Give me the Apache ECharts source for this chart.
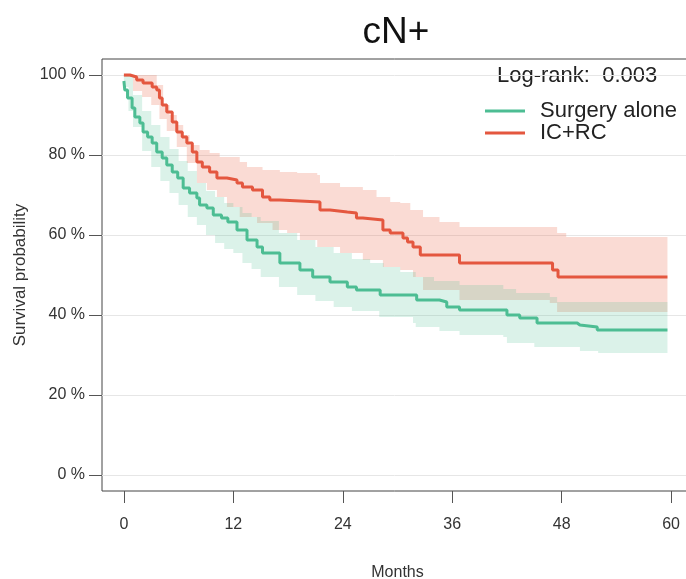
<!DOCTYPE html>
<html>
<head>
<meta charset="utf-8">
<script src="https://cdn.jsdelivr.net/npm/echarts@6/dist/echarts.min.js"></script>
<style>html,body{margin:0;padding:0;background:#fff}#c{width:686px;height:579px}</style>
</head>
<body>
<div id="c"></div>
<script>
// ---- data (months, survival %) ----
const seriesNames = ['Surgery alone', 'IC+RC'];
const xTicks = [0, 12, 24, 36, 48, 60];
const yTicks = [0, 20, 40, 60, 80, 100];

const surgeryAlone = [[0,98.5],[0.1,96.25],[0.4,94.25],[0.9,91.75],[1.2,89.5],[1.75,88],[2.1,85.75],[2.6,84.5],[3.1,83],[3.6,80.75],[4.2,79.25],[4.7,77.5],[5.3,75.75],[5.9,74.25],[6.5,71.75],[7.2,70.5],[8.0,69.25],[8.3,67.5],[9.1,66.75],[9.8,65],[10.7,64.25],[11.4,63.25],[12.4,61.25],[13.5,58.75],[14.6,57],[15.2,55.5],[17.1,53],[19.3,51.25],[20.7,49.5],[22.6,48.25],[24.5,47],[25.5,46.25],[28.1,45],[32.1,43.75],[34.6,43.25],[35.4,42],[36.8,41.25],[42.0,40],[43.4,39.25],[45.3,38],[49.7,37.5],[50.0,37],[51.9,36.25],[59.6,36.25]];
const surgeryUpper = [[0,100],[1,95],[2,91],[3,87.5],[4,84.5],[5,81.5],[6,78.5],[7,76],[8,73],[9,71],[10,69.5],[11,68],[12,67],[13,65.5],[14,64.5],[15,63.5],[17,60.5],[19,58.75],[21,57],[23,55.5],[25,54],[27,53],[28.5,52],[30.3,50.75],[32,49.5],[34,48.5],[36.8,47.5],[41.6,46.5],[43,45.5],[46.7,44.5],[47.5,43.25],[59.6,43.25]];
const surgeryLower = [[0,97],[0.5,91],[1,87],[2,81],[3,77],[4,73.5],[5,70.5],[6,67.5],[7,64.5],[8,62.5],[9,60],[10,58],[11,56.5],[12,55.5],[13,53],[14,51.5],[15,49.5],[17,47],[19,45],[21,43.5],[23,42],[25,41],[28,39.5],[31.7,38],[32,37],[34.6,36],[36.8,35],[41.6,34.5],[42,33],[45,32],[50,31],[52,30.5],[59.6,30.5]];

const icrc = [[0,100],[0.66,99.5],[1.4,98.75],[2.1,98],[3.1,97],[3.6,96.25],[3.9,94.25],[4.2,92.5],[4.7,90.75],[5.3,88.25],[5.8,85.75],[6.4,84.5],[6.9,83],[7.5,80.75],[8.0,78.25],[8.6,77],[9.4,75.75],[10.2,74.25],[11.3,73.75],[12.4,73],[13.0,72],[14.1,71.25],[15.2,69.5],[16.0,68.75],[17.1,68.25],[21.5,66.25],[22.6,65.75],[24.5,65.5],[25.5,64.25],[26.2,63.75],[28.4,61.25],[29.2,60.5],[30.6,59.25],[31.1,58.25],[31.7,57],[32.5,55],[36.8,53],[47.0,51.25],[47.6,49.5],[59.6,49.5]];
const icrcUpper = [[0,100],[3.6,97.5],[4.3,92.5],[5.0,90],[5.8,87.5],[6.5,85],[7.2,82.5],[8.3,81.25],[9.4,80.5],[10.5,79.5],[12.7,78.25],[13.5,77],[15.2,76.25],[17.1,75.75],[19.0,75.5],[21.2,75],[21.5,73],[23.7,72],[26.2,71.25],[27.7,69.5],[29.2,68.25],[30.3,68],[31.4,66.25],[32.8,64.5],[34.6,63.25],[36.8,62],[47.5,60.5],[48.5,59.5],[59.6,59.5]];
const icrcLower = [[0,99.5],[1,96],[2,94.5],[3,92.5],[3.9,89],[4.7,86],[5.8,82],[6.9,78],[8.0,73],[9.1,71.25],[10.2,69.5],[11.3,67],[12.7,64.5],[14.6,63],[16.3,61.25],[17.9,60.5],[19.3,58.75],[21.2,57],[23.7,55.5],[26.2,53.75],[28.4,52],[30.3,51.25],[31.7,49.5],[32.8,46.25],[36.8,43.75],[46.7,43],[47.5,40.75],[59.6,40.75]];

const logRankText = 'Log-rank:  0.003';

// ---- styling ----
const GREEN = '#4dbd93';
const RED = '#e4573f';
const FONT = '"Liberation Sans", Arial, sans-serif';

function stepPath(arr) {
  const pts = [[arr[0][0], arr[0][1]]];
  for (let i = 1; i < arr.length; i++) {
    pts.push([arr[i][0], arr[i - 1][1]]);
    pts.push([arr[i][0], arr[i][1]]);
  }
  return pts;
}
function bandSeries(upper, lower, fill) {
  return {
    type: 'custom',
    coordinateSystem: 'cartesian2d',
    silent: true,
    data: [[0, 0]],
    z: 1,
    renderItem: function (params, api) {
      const up = stepPath(upper);
      const lo = stepPath(lower).reverse();
      const points = up.concat(lo).map(p => api.coord(p));
      return { type: 'polygon', shape: { points: points }, style: { fill: fill } };
    }
  };
}

const chart = echarts.init(document.getElementById('c'), null, { renderer: 'canvas' });
chart.setOption({
  animation: false,
  backgroundColor: '#fff',
  textStyle: { fontFamily: FONT },
  title: {
    text: 'cN+',
    left: 396, top: 14, textAlign: 'center', padding: 0,
    textStyle: { fontFamily: FONT, fontSize: 37, fontWeight: 'normal', color: '#111' }
  },
  legend: {
    data: seriesNames,
    orient: 'vertical',
    left: 485, top: 100, padding: 0,
    icon: 'rect',
    itemWidth: 40, itemHeight: 3, itemGap: 0,
    textStyle: { fontFamily: FONT, fontSize: 22, lineHeight: 21, color: '#222', padding: [0, 0, 0, 10] }
  },
  graphic: [{
    type: 'text', left: 497, top: 65,
    style: { text: logRankText, fontFamily: FONT, fontSize: 22, fill: '#222' }
  }],
  grid: { left: 102, right: -7, top: 59, bottom: 88, show: true, borderColor: '#444', borderWidth: 1, containLabel: false, outerBoundsMode: 'none' },
  xAxis: {
    type: 'value', min: -2.4, max: 62.4,
    name: 'Months', nameLocation: 'middle', nameGap: 74,
    nameTextStyle: { fontFamily: FONT, fontSize: 16, color: '#333' },
    axisLine: { show: false, onZero: false },
    axisTick: { show: true, length: 12, customValues: xTicks, lineStyle: { color: '#555' } },
    axisLabel: { customValues: xTicks, margin: 26, fontSize: 16, color: '#333', fontFamily: FONT },
    splitLine: { show: false }
  },
  yAxis: {
    type: 'value', min: -4, max: 104,
    name: 'Survival probability', nameLocation: 'middle', nameGap: 72, nameRotate: 90,
    nameTextStyle: { fontFamily: FONT, fontSize: 17, color: '#333' },
    axisLine: { show: false, onZero: false },
    axisTick: { show: true, length: 13, customValues: yTicks, lineStyle: { color: '#555' } },
    axisLabel: { customValues: yTicks, margin: 17, fontSize: 16, color: '#333', fontFamily: FONT, formatter: v => v + ' %' },
    splitLine: { show: true, lineStyle: { color: '#e6e6e6', width: 1 } }
  },
  series: [
    bandSeries(icrcUpper, icrcLower, 'rgba(236,110,85,0.25)'),
    bandSeries(surgeryUpper, surgeryLower, 'rgba(77,189,147,0.2)'),
    {
      name: seriesNames[0], type: 'line', step: 'end', data: surgeryAlone,
      symbol: 'none', z: 5, color: GREEN, lineStyle: { color: GREEN, width: 3 }
    },
    {
      name: seriesNames[1], type: 'line', step: 'end', data: icrc,
      symbol: 'none', z: 5, color: RED, lineStyle: { color: RED, width: 3 }
    }
  ]
});
</script>
</body>
</html>
